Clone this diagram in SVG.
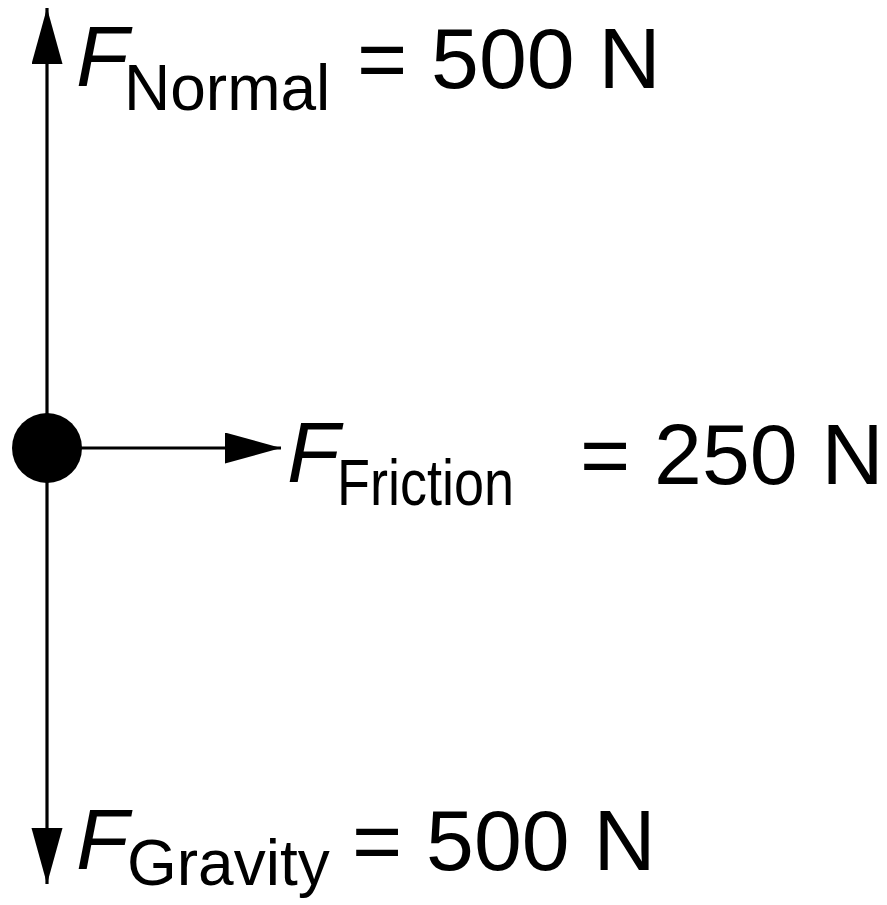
<svg xmlns="http://www.w3.org/2000/svg" width="887" height="905" viewBox="0 0 887 905">
  <style>
    .vec { stroke: #000; stroke-width: 3.2; fill: none; }
    .t { font-family: "Liberation Sans", Arial, Helvetica, sans-serif; fill: #000; }
    .f { font-style: italic; font-size: 86px; }
    .sub { font-size: 64px; }
    .main { font-size: 86px; }
  </style>
  <defs>
    <marker id="head" markerUnits="userSpaceOnUse" markerWidth="58" markerHeight="32" refX="56" refY="15.5" orient="auto">
      <path d="M0,0 L56,15.5 L0,31 Z" fill="#000"/>
    </marker>
  </defs>
  <rect width="887" height="905" fill="#fff"/>
  <g id="connectors">
    <line class="vec" x1="47" y1="448" x2="47" y2="8" marker-end="url(#head)"/>
    <line class="vec" x1="47" y1="448" x2="47" y2="884" marker-end="url(#head)"/>
    <line class="vec" x1="47" y1="448" x2="281" y2="448" marker-end="url(#head)"/>
  </g>
  <g id="body">
    <circle cx="47" cy="448" r="35" fill="#000"/>
  </g>
  <g id="label-normal">
    <text class="t f" x="76" y="86">F</text>
    <text class="t sub" x="124" y="110">Normal</text>
    <text class="t main" x="357" y="88">= 500 N</text>
  </g>
  <g id="label-friction">
    <text class="t f" x="287" y="482">F</text>
    <text class="t sub" x="337" y="505" textLength="177" lengthAdjust="spacingAndGlyphs">Friction</text>
    <text class="t main" x="580" y="484">= 250 N</text>
  </g>
  <g id="label-gravity">
    <text class="t f" x="76" y="869">F</text>
    <text class="t sub" x="127" y="885">Gravity</text>
    <text class="t main" x="352" y="870">= 500 N</text>
  </g>
</svg>
